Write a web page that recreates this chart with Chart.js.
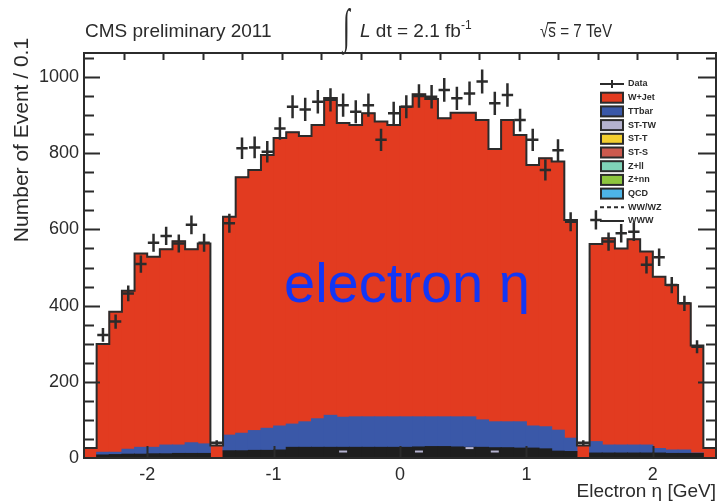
<!DOCTYPE html>
<html>
<head>
<meta charset="utf-8">
<title>Electron eta</title>
<script src="https://cdn.jsdelivr.net/npm/chart.js@4/dist/chart.umd.min.js"></script>
<style>
  html, body { margin: 0; padding: 0; background: #fff; }
  #wrap { width: 717px; height: 501px; }
</style>
</head>
<body>
<div id="wrap"><canvas id="etaChart" width="717" height="501"></canvas></div>
<script>
// 50 bins of 0.1 in electron eta, from -2.5 to 2.5
const binLow = -2.5;
const binWidth = 0.1;
const binCount = 50;
const xTickLabels = [-2, -1, 0, 1, 2];
const yTickLabels = [0, 200, 400, 600, 800, 1000];

// stacked MC, bottom to top
const otherBkg = [0, 8, 9, 10, 10, 11, 11, 12, 12, 12, 0,
  19, 19, 20, 20, 21, 28, 28, 28, 28, 28, 28, 28, 28, 28, 28, 29, 30, 30, 29, 28, 28, 27, 27, 26, 26, 24, 18, 17,
  0, 13, 13, 13, 13, 13, 13, 12, 12, 12, 0];
const ttbar = [0, 7, 6, 13, 18, 17, 23, 22, 28, 25, 0,
  41, 46, 52, 58, 63, 61, 67, 75, 84, 79, 80, 80, 80, 80, 80, 79, 78, 78, 79, 80, 72, 68, 68, 69, 58, 58, 55, 35,
  0, 30, 21, 21, 21, 21, 12, 9, 9, 1, 0];
const wjets = [26, 284, 369, 416, 509, 500, 514, 535, 508, 526, 33,
  573, 672, 684, 717, 756, 766, 750, 771, 833, 772, 766, 797, 775, 766, 814, 847, 834, 784, 798, 798, 787, 716, 792, 753, 685, 705, 705, 573,
  33, 519, 543, 516, 540, 508, 451, 433, 385, 282, 26];
// single-top tW tops that show through the small-background band
const stTwTops = [null, null, null, null, null, null, null, null, null, null, null,
  null, null, null, null, null, null, null, null, null, 17, null, null, null, null, null, 17, null, null, null, 26, null, 17, null, null, null, null, null, null,
  null, null, null, null, null, null, null, null, null, null, null];
const dataCounts = [null, 323, 358, 432, 509, 565, 583, 563, 612, 565, 40,
  616, 813, 815, 804, 865, 922, 915, 935, 940, 926, 909, 926, 835, 905, 922, 950, 948, 966, 944, 957, 988, 931, 953, 887, 835, 756, 808, 620,
  40, 625, 568, 590, 594, 507, 527, 454, 406, 292, null];

const legendNames = ['Data', 'W+Jet', 'TTbar', 'ST-TW', 'ST-T', 'ST-S', 'Z+ll', 'Z+nn', 'QCD', 'WW/WZ', 'WWW'];

const FONT = '"Liberation Sans", Arial, Helvetica, sans-serif';
const INK = '#2b2b2b';
const colors = {
  other: '#1e1e1e',
  ttbar: '#3a58a8',
  wjets: '#e23b20',
  stTw: '#b4b2cf',
};
const legendStyles = [
  { kind: 'data' },
  { kind: 'box', color: colors.wjets },
  { kind: 'box', color: colors.ttbar },
  { kind: 'box', color: colors.stTw },
  { kind: 'box', color: '#f3cf2f' },
  { kind: 'box', color: '#cc5a4e' },
  { kind: 'box', color: '#7fd3b8' },
  { kind: 'box', color: '#8dc63f' },
  { kind: 'box', color: '#4db4e6' },
  { kind: 'dash' },
  { kind: 'line' },
];

const round3 = (v) => Math.round(v * 1000) / 1000;
const centers = Array.from({ length: binCount }, (_, i) => round3(binLow + (i + 0.5) * binWidth));
const lowEdges = Array.from({ length: binCount + 1 }, (_, i) => round3(binLow + i * binWidth));

const toPoints = (values) => values.map((v, i) => ({ x: centers[i], y: v }));
const stackTotal = otherBkg.map((v, i) => v + ttbar[i] + wjets[i]);
// step outline: one point per lower bin edge, plus the last upper edge
const outlinePoints = lowEdges.map((x, i) => ({ x, y: stackTotal[Math.min(i, binCount - 1)] }));

function barSet(label, values, color) {
  return {
    type: 'bar',
    label,
    data: toPoints(values),
    backgroundColor: color,
    borderWidth: 0,
    inflateAmount: 0.5,
    barPercentage: 1,
    categoryPercentage: 1,
    stack: 'mc',
    order: 0,
  };
}

// data points with sqrt(N) error bars
const dataCrosses = {
  id: 'dataCrosses',
  afterDatasetsDraw(chart) {
    const { ctx, scales: { x, y } } = chart;
    const idx = chart.data.datasets.findIndex((d) => d.label === 'Data');
    const values = chart.data.datasets[idx].data;
    ctx.save();
    ctx.strokeStyle = INK;
    ctx.lineWidth = 2.5;
    ctx.beginPath();
    values.forEach((p) => {
      if (p.y === null) return;
      const err = Math.sqrt(p.y);
      const px = x.getPixelForValue(p.x);
      const py = y.getPixelForValue(p.y);
      ctx.moveTo(x.getPixelForValue(p.x - 0.045), py);
      ctx.lineTo(x.getPixelForValue(p.x + 0.045), py);
      ctx.moveTo(px, y.getPixelForValue(p.y + err));
      ctx.lineTo(px, y.getPixelForValue(p.y - err));
    });
    ctx.stroke();
    ctx.restore();
  },
};

// frame with ticks pointing inwards on all four sides
const frameTicks = {
  id: 'frameTicks',
  afterDatasetsDraw(chart) {
    const { ctx, chartArea: a, scales: { x, y } } = chart;
    ctx.save();
    ctx.strokeStyle = INK;
    ctx.lineWidth = 2;
    ctx.beginPath();
    for (let v = 50; v < y.max; v += 50) {
      const py = Math.round(y.getPixelForValue(v)) + 0.5;
      const major = yTickLabels.includes(v);
      ctx.moveTo(a.left, py);
      ctx.lineTo(a.left + (major ? 16 : 10), py);
      ctx.moveTo(a.right, py);
      ctx.lineTo(a.right - (major ? 18 : 10), py);
    }
    for (let k = 1; k < 16; k++) {
      const px = Math.round(a.left + (k * (a.right - a.left)) / 16) + 0.5;
      ctx.moveTo(px, a.top);
      ctx.lineTo(px, a.top + 7);
    }
    xTickLabels.forEach((v) => {
      const px = Math.round(x.getPixelForValue(v)) + 0.5;
      ctx.moveTo(px, a.bottom);
      ctx.lineTo(px, a.bottom - 12);
    });
    ctx.stroke();
    ctx.lineWidth = 2;
    ctx.strokeRect(a.left, a.top, a.right - a.left, a.bottom - a.top);
    ctx.restore();
  },
};

const captions = {
  id: 'captions',
  afterDraw(chart) {
    const { ctx } = chart;
    ctx.save();
    ctx.fillStyle = INK;
    ctx.textBaseline = 'alphabetic';

    // header line
    ctx.font = `19px ${FONT}`;
    ctx.fillText('CMS preliminary 2011', 85, 37);
    ctx.save();
    ctx.translate(343, 42);
    ctx.scale(0.9, 1.7);
    ctx.font = `28px "Liberation Serif", serif`;
    ctx.fillText('\u222B', 0, 0);
    ctx.restore();
    ctx.font = `italic 19px ${FONT}`;
    ctx.fillText('L', 360, 37);
    let cx = 360 + ctx.measureText('L ').width;
    ctx.font = `19px ${FONT}`;
    ctx.fillText('dt = 2.1 fb', cx, 37);
    cx += ctx.measureText('dt = 2.1 fb').width;
    ctx.font = `12px ${FONT}`;
    ctx.fillText('-1', cx, 29);

    // sqrt(s), set a little narrower
    ctx.save();
    ctx.translate(540, 37);
    ctx.scale(0.8, 1);
    ctx.font = `19px ${FONT}`;
    ctx.fillText('\u221As = 7 TeV', 0, 0);
    const rootW = ctx.measureText('\u221A').width;
    const sW = ctx.measureText('s').width;
    ctx.fillRect(rootW - 1, -15, sW + 1, 1.5);
    ctx.restore();

    // axis titles
    ctx.font = `19px ${FONT}`;
    ctx.textAlign = 'right';
    ctx.fillText('Electron \u03B7 [GeV]', 716, 497);
    ctx.save();
    ctx.translate(28, 140);
    ctx.rotate(-Math.PI / 2);
    ctx.textAlign = 'center';
    ctx.font = `21px ${FONT}`;
    ctx.fillText('Number of Event / 0.1', 0, 0);
    ctx.restore();

    // legend
    ctx.textAlign = 'left';
    ctx.textBaseline = 'middle';
    ctx.font = `bold 9px ${FONT}`;
    legendNames.forEach((name, i) => {
      const st = legendStyles[i];
      const yc = 84 + i * 13.7;
      ctx.strokeStyle = INK;
      ctx.lineWidth = 2;
      if (st.kind === 'box') {
        ctx.fillStyle = st.color;
        ctx.fillRect(601, yc - 5, 22, 10);
        ctx.strokeRect(601, yc - 5, 22, 10);
      } else {
        ctx.setLineDash(st.kind === 'dash' ? [4, 3] : []);
        ctx.beginPath();
        ctx.moveTo(600, yc);
        ctx.lineTo(624, yc);
        if (st.kind === 'data') {
          ctx.moveTo(612, yc - 4);
          ctx.lineTo(612, yc + 4);
        }
        ctx.stroke();
        ctx.setLineDash([]);
      }
      ctx.fillStyle = INK;
      ctx.fillText(name, 628, yc);
    });

    // overlay label
    ctx.textBaseline = 'alphabetic';
    ctx.fillStyle = '#1236f5';
    ctx.font = `56px ${FONT}`;
    ctx.fillText('electron \u03B7', 284, 302);
    ctx.restore();
  },
};

new Chart(document.getElementById('etaChart'), {
  data: {
    datasets: [
      barSet('Other', otherBkg, colors.other),
      barSet('TTbar', ttbar, colors.ttbar),
      barSet('W+Jet', wjets, colors.wjets),
      {
        type: 'line',
        label: 'ST-TW',
        data: toPoints(stTwTops),
        showLine: false,
        pointStyle: 'line',
        pointRadius: 4,
        pointBorderWidth: 2,
        pointBorderColor: colors.stTw,
        stack: 'sttw',
        order: -1,
      },
      {
        type: 'line',
        label: 'Stack',
        data: outlinePoints,
        borderColor: INK,
        borderWidth: 2,
        pointRadius: 0,
        fill: false,
        stepped: true,
        stack: 'outline',
        order: -1,
      },
      {
        type: 'line',
        label: 'Data',
        data: toPoints(dataCounts),
        showLine: false,
        pointRadius: 0,
        stack: 'data',
        order: -2,
      },
    ],
  },
  options: {
    responsive: false,
    animation: false,
    devicePixelRatio: 1,
    layout: { autoPadding: false, padding: { top: 53, right: 1, left: 0, bottom: 0 } },
    plugins: { legend: { display: false }, tooltip: { enabled: false } },
    scales: {
      x: {
        type: 'linear',
        min: -2.5,
        max: 2.5,
        offset: false,
        grid: { display: false, drawTicks: false, offset: false },
        border: { display: false },
        afterFit: (scale) => { scale.height = 43; },
        afterBuildTicks: (scale) => { scale.ticks = xTickLabels.map((v) => ({ value: v })); },
        ticks: {
          autoSkip: false,
          maxRotation: 0,
          padding: 6,
          color: INK,
          font: { family: FONT, size: 18 },
          callback: (v) => String(v),
        },
      },
      y: {
        stacked: true,
        min: 0,
        max: 1063,
        grid: { display: false, drawTicks: false },
        border: { display: false },
        afterFit: (scale) => { scale.width = 84; },
        afterBuildTicks: (scale) => { scale.ticks = yTickLabels.map((v) => ({ value: v })); },
        ticks: {
          padding: 5,
          color: INK,
          font: { family: FONT, size: 18 },
          callback: (v) => String(v),
        },
      },
    },
  },
  plugins: [dataCrosses, frameTicks, captions],
});
</script>
</body>
</html>
